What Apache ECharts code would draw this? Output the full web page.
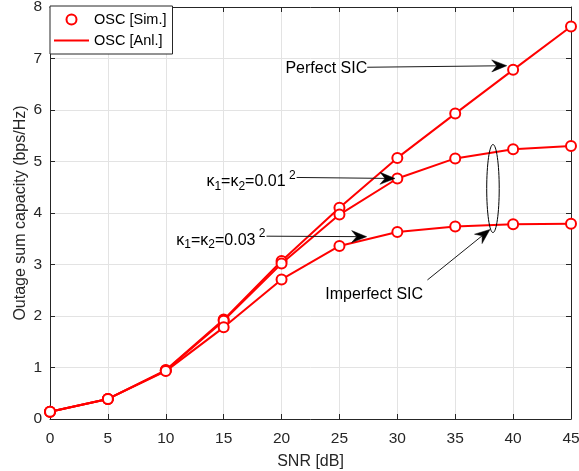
<!DOCTYPE html>
<html>
<head>
<meta charset="utf-8">
<script src="https://cdn.jsdelivr.net/npm/echarts@6/dist/echarts.min.js"></script>
<style>
  html, body { margin: 0; padding: 0; background: #fff; }
  #main { width: 579px; height: 471px; }
</style>
</head>
<body>
<div id="main"></div>
<script>
// SNR in dB and outage sum capacity
var snr = [0, 5, 10, 15, 20, 25, 30, 35, 40, 45];
var perfectSIC = [0.14, 0.39, 0.95, 1.93, 3.07, 4.10, 5.07, 5.93, 6.78, 7.62];
var kappa001 = [0.14, 0.39, 0.94, 1.91, 3.02, 3.97, 4.67, 5.06, 5.24, 5.30];
var kappa003 = [0.14, 0.39, 0.93, 1.78, 2.71, 3.36, 3.63, 3.74, 3.78, 3.79];
var xTicks = [0, 45, 5];   // min, max, step
var yTicks = [0, 8, 1];

var FONT = 'Liberation Sans, Arial, Helvetica, sans-serif';
var RED = '#ff0000';
var AXIS = '#262626';

function pairs(ys) {
  return snr.map(function (x, i) { return [x, ys[i]]; });
}

var curves = [perfectSIC, kappa001, kappa003];
var series = [];
curves.forEach(function (c) {
  series.push({
    name: 'OSC [Anl.]',
    type: 'line',
    data: pairs(c),
    symbol: 'none',
    lineStyle: { color: RED, width: 2 },
    itemStyle: { color: RED },
    z: 2
  });
});
curves.forEach(function (c) {
  series.push({
    name: 'OSC [Sim.]',
    type: 'scatter',
    data: pairs(c),
    symbol: 'emptyCircle',
    symbolSize: 10,
    itemStyle: { color: RED, borderColor: RED, borderWidth: 2, opacity: 1 },
    z: 3
  });
});

function valueAxis(pos, r, extra) {
  var a = {
    type: 'value',
    position: pos,
    min: r[0], max: r[1], interval: r[2],
    axisLine: { show: true, onZero: false, lineStyle: { color: AXIS, width: 1 } },
    axisTick: { show: true, inside: true, length: 5, lineStyle: { color: AXIS } },
    axisLabel: { show: false },
    splitLine: { show: false }
  };
  return Object.assign(a, extra || {});
}

var chart = echarts.init(document.getElementById('main'));

chart.setOption({
  animation: false,
  backgroundColor: '#fff',
  grid: { left: 50, right: 8, top: 7, bottom: 52, containLabel: false, outerBoundsMode: 'none' },
  legend: {
    orient: 'vertical',
    left: 50, top: 6,
    backgroundColor: '#fff',
    borderColor: AXIS, borderWidth: 1, borderRadius: 0,
    padding: [5, 6, 5, 4],
    itemGap: 4,
    itemWidth: 35, itemHeight: 10,
    itemTextGap: 4,
    textStyle: { fontFamily: FONT, fontSize: 14.5, color: '#000', lineHeight: 17 },
    data: [
      { name: 'OSC [Sim.]', icon: 'emptyCircle', itemStyle: { borderWidth: 2 } },
      { name: 'OSC [Anl.]', icon: 'path://M0,0L35,0L35,2L0,2Z' }
    ]
  },
  xAxis: [
    valueAxis('bottom', xTicks, {
      name: 'SNR [dB]',
      nameLocation: 'middle',
      nameGap: 35,
      nameMoveOverlap: false,
      nameTextStyle: { fontFamily: FONT, fontSize: 16, color: AXIS },
      axisLabel: { show: true, margin: 12, fontFamily: FONT, fontSize: 15.5, color: AXIS },
      splitLine: { show: true, lineStyle: { color: '#e3e3e3', width: 1 } }
    }),
    valueAxis('top', xTicks)
  ],
  yAxis: [
    valueAxis('left', yTicks, {
      name: 'Outage sum capacity (bps/Hz)',
      nameLocation: 'middle',
      nameGap: 21,
      nameMoveOverlap: false,
      nameTextStyle: { fontFamily: FONT, fontSize: 16, color: AXIS },
      axisLabel: { show: true, margin: 8, fontFamily: FONT, fontSize: 15.5, color: AXIS },
      splitLine: { show: true, lineStyle: { color: '#e3e3e3', width: 1 } }
    }),
    valueAxis('right', yTicks)
  ],
  series: series
});

// annotations, placed in data coordinates
var notes = {
  perfect: { from: [27.4, 6.83], to: [39.45, 6.86] },
  k001: { from: [21.3, 4.69], to: [29.8, 4.67] },
  k003: { from: [18.7, 3.55], to: [27.35, 3.54] },
  imperfect: { from: [32.6, 2.70], to: [38.0, 3.68], text: [28.0, 2.42] },
  ring: { top: 5.33, bottom: 3.62, left: 37.72, right: 38.8 }
};

function px(p) { return chart.convertToPixel({ gridIndex: 0 }, p); }

function arrow(from, to) {
  var a = px(from), b = px(to);
  var ang = Math.atan2(b[1] - a[1], b[0] - a[0]);
  var L = 15, W = 6, N = 10;
  var ca = Math.cos(ang), sa = Math.sin(ang);
  function pt(back, side) {
    return [b[0] - back * ca - side * sa, b[1] - back * sa + side * ca];
  }
  return [
    { type: 'line', shape: { x1: a[0], y1: a[1], x2: pt(N, 0)[0], y2: pt(N, 0)[1] },
      style: { stroke: '#1a1a1a', lineWidth: 1 }, z: 10 },
    { type: 'polygon', shape: { points: [b, pt(L, W), pt(N, 0), pt(L, -W)] },
      style: { fill: '#000', stroke: '#000', lineWidth: 0.5 }, z: 10 }
  ];
}

var kRich = {
  k: { fontFamily: FONT, fontSize: 16, color: '#000' },
  s: { fontFamily: FONT, fontSize: 12, color: '#000', padding: [10, 0, 0, 0] },
  p: { fontFamily: FONT, fontSize: 12, color: '#000', padding: [0, 0, 12, 0] }
};

function kappaLabel(p, val) {
  var q = px(p);
  return {
    type: 'text', x: q[0] - 1, y: q[1] + 4, z: 10,
    style: {
      text: '{k|κ}{s|1}{k|=κ}{s|2}{k|=' + val + '}{p| 2}',
      rich: kRich, align: 'right', verticalAlign: 'middle'
    }
  };
}

function plainLabel(p, txt, align, dy) {
  var q = px(p);
  return {
    type: 'text', x: q[0], y: q[1] + (dy || 0), z: 10,
    style: { text: txt, fontFamily: FONT, fontSize: 16, fill: '#000', align: align, verticalAlign: 'middle' }
  };
}

var g = [];
g = g.concat(arrow(notes.perfect.from, notes.perfect.to));
g.push(plainLabel(notes.perfect.from, 'Perfect SIC', 'right', 1));
g = g.concat(arrow(notes.k001.from, notes.k001.to));
g.push(kappaLabel(notes.k001.from, '0.01'));
g = g.concat(arrow(notes.k003.from, notes.k003.to));
g.push(kappaLabel(notes.k003.from, '0.03'));
g = g.concat(arrow(notes.imperfect.from, notes.imperfect.to));
g.push(plainLabel(notes.imperfect.text, 'Imperfect SIC', 'center', 0));

var rt = px([notes.ring.right, notes.ring.top]);
var lb = px([notes.ring.left, notes.ring.bottom]);
g.push({
  type: 'ellipse', z: 10,
  shape: { cx: (rt[0] + lb[0]) / 2, cy: (rt[1] + lb[1]) / 2, rx: (rt[0] - lb[0]) / 2, ry: (lb[1] - rt[1]) / 2 },
  style: { fill: 'none', stroke: '#000', lineWidth: 1 }
});

chart.setOption({ graphic: g });
</script>
</body>
</html>
